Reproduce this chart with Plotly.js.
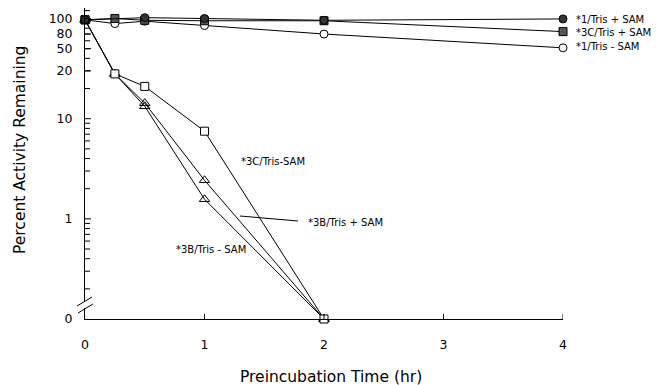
<!DOCTYPE html>
<html>
<head>
<meta charset="utf-8">
<script src="https://cdn.plot.ly/plotly-3.0.1.min.js"></script>
<style>html,body{margin:0;padding:0;background:#fff;}#chart{width:657px;height:385px;}</style>
</head>
<body>
<div id="chart"></div>
<script>
// ---- data (percent activity remaining vs preincubation time, hr) ----
const seriesNames = ["*1/Tris + SAM", "*3C/Tris + SAM", "*1/Tris - SAM", "*3C/Tris-SAM", "*3B/Tris + SAM", "*3B/Tris - SAM"];
const x_1TrisPlus  = [0, 0.5, 1, 2, 4];
const y_1TrisPlus  = [97, 102, 100, 96, 99];
const x_3CTrisPlus = [0, 0.25, 0.5, 1, 2, 4];
const y_3CTrisPlus = [97, 100, 96, 95, 95, 74];
const x_1TrisMinus = [0, 0.25, 0.5, 1, 2, 4];
const y_1TrisMinus = [97, 89, 94, 85, 70, 51];
const x_3CTrisMinus = [0, 0.25, 0.5, 1, 2];
const y_3CTrisMinus = [97, 28, 21, 7.5, 0];
const x_3BTrisPlus = [0, 0.25, 0.5, 1, 2];
const y_3BTrisPlus = [97, 28, 14.3, 2.43, 0];
const x_3BTrisMinus = [0, 0.25, 0.5, 1, 2];
const y_3BTrisMinus = [97, 28, 13.3, 1.57, 0];
const xTickVals = [0, 1, 2, 3, 4];
const yTickLabels = ["100", "80", "50", "20", "10", "1", "0"];
const yTickVals = [100, 70, 50, 30, 10, 1, 0];
const xTitle = "Preincubation Time (hr)";
const yTitle = "Percent Activity Remaining";

// zero is drawn at the foot of the broken log axis
const ZERO_AT = 0.1;
const fixZero = a => a.map(v => v === 0 ? ZERO_AT : v);
const Y_RANGE = [-1, 2.105];

// minor log ticks (2..9 in each decade above the break)
const minorTicks = [];
[0.1, 1, 10].forEach(d => { for (let k = 2; k <= 9; k++) minorTicks.push(+(k * d).toPrecision(3)); });
minorTicks.push(120);

const FONT = "DejaVu Sans, Arial, sans-serif";
const line = {color: "black", width: 1};
function tr(x, y, symbol, fill, size, name) {
  return {
    x: x, y: fixZero(y), type: "scatter", mode: "lines+markers", name: name,
    line: line, cliponaxis: false,
    marker: {symbol: symbol, size: size, color: fill, line: {color: "black", width: 1}}
  };
}
const traces = [
  tr(x_3BTrisMinus, y_3BTrisMinus, "triangle-up-open", "black", 9, seriesNames[5]),
  tr(x_3BTrisPlus, y_3BTrisPlus, "triangle-up-open", "black", 9, seriesNames[4]),
  tr(x_3CTrisMinus, y_3CTrisMinus, "square", "white", 8, seriesNames[3]),
  tr(x_1TrisMinus, y_1TrisMinus, "circle", "white", 8, seriesNames[2]),
  tr(x_3CTrisPlus, y_3CTrisPlus, "square", "#555", 8, seriesNames[1]),
  tr(x_1TrisPlus, y_1TrisPlus, "circle", "#333", 8, seriesNames[0])
];

// plot-area pixel helpers for text / decoration placement
const L = 85, R = 563, T = 8, B = 319;
const px = p => (p - L) / (R - L);
const py = p => (B - p) / (B - T);
// paper position of a value on the log y axis (for the inside tick marks)
const yPaper = v => (Math.log10(v) - Y_RANGE[0]) / (Y_RANGE[1] - Y_RANGE[0]);

function ann(text, xp, yp, size) {
  return {text: text, xref: "paper", yref: "paper", x: px(xp), y: py(yp),
    xanchor: "left", yanchor: "middle", showarrow: false,
    font: {family: FONT, size: size || 10, color: "black"}};
}
const annotations = [
  ann(seriesNames[0], 574, 20),
  ann(seriesNames[1], 574, 32),
  ann(seriesNames[2], 574, 47),
  ann(seriesNames[3], 239, 161),
  ann(seriesNames[4], 306, 222),
  ann(seriesNames[5], 174, 249),
  // axis titles
  {text: xTitle, xref: "paper", yref: "paper", x: px(331), y: py(377), xanchor: "center", yanchor: "middle",
   showarrow: false, font: {family: FONT, size: 15.5, color: "black"}},
  {text: yTitle, xref: "paper", yref: "paper", x: px(20), y: py(150), xanchor: "center", yanchor: "middle",
   textangle: -90, showarrow: false, font: {family: FONT, size: 15.5, color: "black"}}
];

const tickLine = {color: "black", width: 1};
const shapes = [
  // leader line for *3B/Tris + SAM
  {type: "line", xref: "paper", yref: "paper", x0: px(240), y0: py(216), x1: px(298), y1: py(221), line: {color: "black", width: 1}},
  // axis break: gap + two slashes
  {type: "rect", xref: "paper", yref: "paper", x0: px(83), x1: px(90), y0: py(308), y1: py(301), fillcolor: "white", line: {width: 0}, layer: "above"},
  {type: "line", xref: "paper", yref: "paper", x0: px(77), y0: py(306), x1: px(92), y1: py(297), line: {color: "black", width: 1}},
  {type: "line", xref: "paper", yref: "paper", x0: px(78), y0: py(313), x1: px(93), y1: py(304), line: {color: "black", width: 1}}
];
// inside tick marks (drawn as shapes so they always show)
xTickVals.filter(v => v > 0).forEach(v => shapes.push(
  {type: "line", xref: "x", yref: "paper", x0: v, x1: v, y0: 0, y1: py(B - 5), line: tickLine}));
yTickVals.filter(v => v > 0).forEach(v => shapes.push(
  {type: "line", xref: "paper", yref: "paper", x0: 0, x1: px(L + 6), y0: yPaper(v), y1: yPaper(v), line: tickLine}));
minorTicks.forEach(v => shapes.push(
  {type: "line", xref: "paper", yref: "paper", x0: 0, x1: px(L + 5), y0: yPaper(v), y1: yPaper(v), line: tickLine}));

const layout = {
  width: 657, height: 385,
  margin: {l: L, r: 657 - R, t: T, b: 385 - B, pad: 0},
  paper_bgcolor: "white", plot_bgcolor: "white",
  showlegend: false,
  font: {family: FONT, color: "black"},
  xaxis: {
    range: [0, 4], tickvals: xTickVals, ticktext: xTickVals.map(String),
    showline: true, linecolor: "black", linewidth: 1, showgrid: false, zeroline: false,
    ticks: "", ticklabelstandoff: 14,
    tickfont: {family: FONT, size: 12.5}
  },
  yaxis: {
    type: "log", range: Y_RANGE,
    tickvals: yTickVals.map(v => v === 0 ? ZERO_AT : v), ticktext: yTickLabels,
    showline: true, linecolor: "black", linewidth: 1, showgrid: false, zeroline: false,
    ticks: "", ticklabelstandoff: 9,
    tickfont: {family: FONT, size: 12.5}
  },
  annotations: annotations,
  shapes: shapes
};
Plotly.newPlot("chart", traces, layout, {displayModeBar: false, staticPlot: true});
</script>
</body>
</html>
